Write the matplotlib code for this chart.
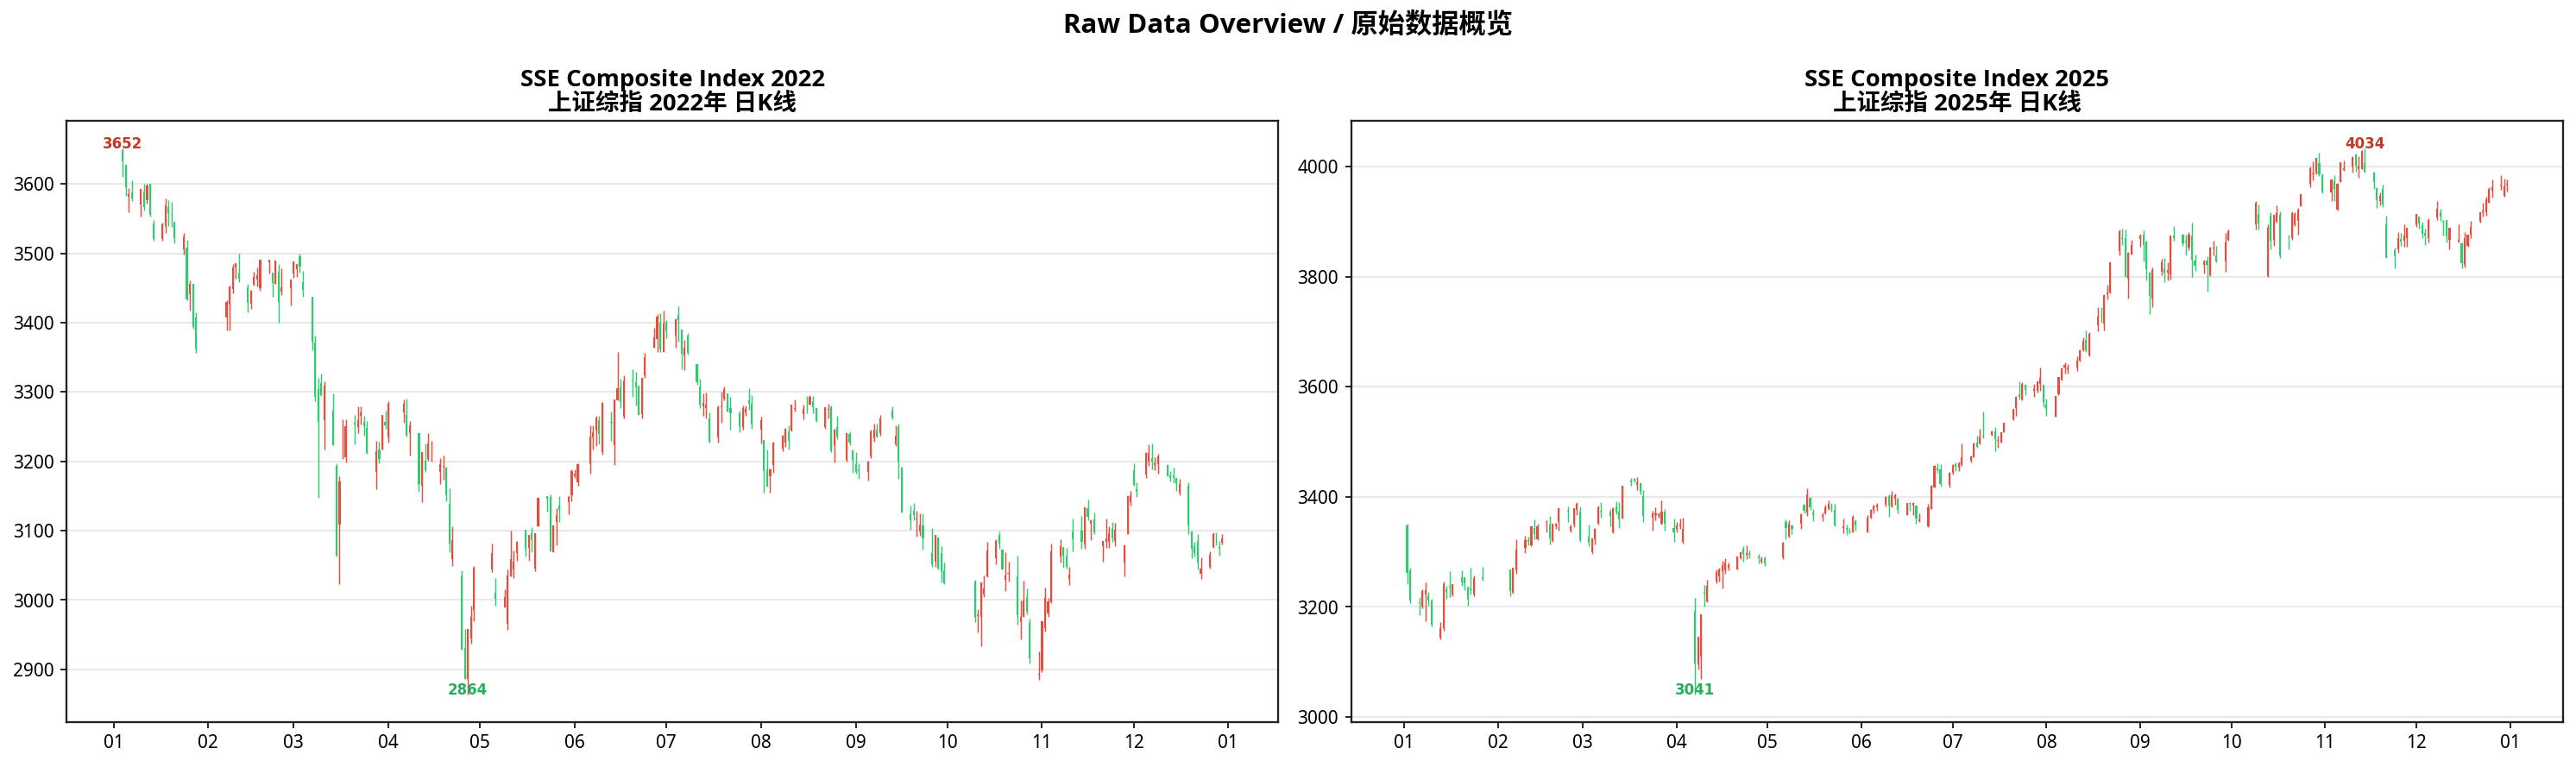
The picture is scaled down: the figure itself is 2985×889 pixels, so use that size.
import matplotlib
matplotlib.use('Agg')
import matplotlib.pyplot as plt
import matplotlib.dates as mdates
import numpy as np
import pandas as pd

plt.rcParams['font.family'] = ['Noto Sans', 'Noto Sans CJK SC', 'DejaVu Sans']
plt.rcParams['axes.unicode_minus'] = False
TITLE_FONT = ['Open Sans', 'Noto Sans CJK SC', 'DejaVu Sans']

UP = '#e74c3c'
DOWN = '#2ecc71'
UP_TXT = '#c0392b'
DOWN_TXT = '#27ae60'

# exchange holidays (weekdays without trading)
hol_22 = ['2022-01-03', '2022-01-31', '2022-02-01', '2022-02-02', '2022-02-03',
          '2022-02-04', '2022-04-04', '2022-04-05', '2022-05-02', '2022-05-03',
          '2022-05-04', '2022-06-03', '2022-09-12', '2022-10-03', '2022-10-04',
          '2022-10-05', '2022-10-06', '2022-10-07']
hol_25 = ['2025-01-01', '2025-01-28', '2025-01-29', '2025-01-30', '2025-01-31',
          '2025-02-03', '2025-02-04', '2025-04-04', '2025-05-01', '2025-05-02',
          '2025-05-05', '2025-06-02', '2025-10-01', '2025-10-02', '2025-10-03',
          '2025-10-06', '2025-10-07', '2025-10-08']

# ---- 2022 daily OHLC ----
open_22 = [
    3649.2, 3628.3, 3581.2, 3588, 3571, 3589, 3577, 3600, 3542.7, 3521, 3539.8, 3567, 3556.5, 3545, 3505.8, 3507.9, 3441.5, 3455.6, 3407,
    3407, 3426.5, 3449, 3479.7, 3472, 3450.6, 3427, 3454.8, 3462, 3449.8, 3487.1, 3472, 3456, 3473.4, 3444.4, 3449.4,
    3470.5, 3477.6, 3495.4, 3458.9, 3436.9, 3371, 3303.8, 3312.9, 3259, 3272.7, 3193.4, 3108.4, 3214.4, 3206.3, 3255.6, 3249.8, 3265.2, 3256.9, 3247.7, 3185.1, 3216.6, 3217.5, 3256.9,
    3234.9, 3270.2, 3267.3, 3240.3, 3240.3, 3164.8, 3200.9, 3203, 3210.5, 3185.1, 3191.8, 3191.4, 3138.6, 3058.6, 3034.9, 2930.4, 2886, 2944.9, 2986,
    3043.6, 3010.8, 2989.6, 2965.2, 3033.6, 3044, 3067.6, 3100.8, 3075.1, 3095.9, 3045.6, 3106.2, 3149.8, 3148.5, 3069, 3112.1, 3135.9, 3141.5, 3150.6,
    3179, 3169.3, 3196.3, 3234.8, 3244, 3259.7, 3212.8, 3256.8, 3223.3, 3288.5, 3307.2, 3264.1, 3316.5, 3313.9, 3308.5, 3268.2, 3324.2, 3364.5, 3377, 3399.7, 3358.3,
    3400.6, 3381.9, 3411, 3390.6, 3352.9, 3381.1, 3340.8, 3307.6, 3279.5, 3276.5, 3261.6, 3234.8, 3278, 3290.4, 3297.9, 3276.3, 3269.7, 3249.4, 3271, 3287.5, 3282.5,
    3246, 3230.7, 3188.8, 3178.4, 3195, 3218.2, 3227.4, 3242.7, 3244, 3275.1, 3268, 3278.4, 3282.1, 3286.7, 3276.3, 3249.4, 3275, 3278.4, 3223.2, 3249.4, 3202.5, 3239.8, 3215.8,
    3196.3, 3188.8, 3184.2, 3207, 3232.7, 3245.2, 3241, 3272.6, 3224.5, 3249.3, 3190.4, 3123.2, 3128.2, 3116.4, 3098.3, 3107.4, 3067.2, 3055.6, 3090, 3067.2, 3042.3,
    3026.6, 2977.3, 2975.2, 3008, 3034, 3059.8, 3094.2, 3072.7, 3028.7, 3037.4, 3034, 2967.7, 2976, 3004.2, 2966.9, 2892,
    2898, 2959.4, 2980.2, 2996.7, 3062.3, 3076.8, 3064.4, 3029.9, 3099.2, 3100.5, 3079.7, 3132.8, 3110, 3116.2, 3077.6, 3084.3, 3083.9, 3103.8, 3085.1, 3053.6, 3095, 3140.7,
    3187.6, 3159.8, 3180.5, 3200, 3205, 3195.1, 3195.9, 3195, 3179.3, 3179.3, 3176.4, 3154.4, 3164.8, 3099.2, 3077.6, 3085.1, 3037.4, 3047.4, 3076.8, 3088, 3076.4, 3083,
]
high_22 = [
    3651.9, 3628.3, 3594.5, 3606, 3593.5, 3601, 3600, 3601, 3547.7, 3545, 3579, 3577, 3574, 3547, 3530, 3519, 3461, 3456, 3415.4,
    3433, 3453, 3484.6, 3485.9, 3499.6, 3455.6, 3447.3, 3473.4, 3479.7, 3491, 3491.3, 3472, 3489.5, 3485, 3478.8, 3462.5,
    3489, 3485, 3499.6, 3474.3, 3437, 3382, 3320, 3326.6, 3316, 3297.5, 3196.7, 3178, 3261, 3261, 3267.3, 3278.9, 3279.7, 3266, 3257.7, 3229.9, 3228.7, 3266.6, 3272.7,
    3287.2, 3288.8, 3290, 3258.1, 3240.3, 3213.5, 3225.8, 3240.3, 3230, 3204.2, 3208, 3192.6, 3160.6, 3106.3, 3043.2, 2958.2, 2958.3, 2991.4, 3048.6,
    3081.7, 3031.1, 3015.8, 3044, 3100, 3071.8, 3085.5, 3101, 3094, 3105, 3097, 3147, 3150, 3152.7, 3107.5, 3132.8, 3149.8, 3150.6, 3188,
    3188.8, 3197.5, 3252.2, 3252.2, 3266, 3266, 3285.5, 3272.2, 3289, 3358.3, 3319.7, 3323.8, 3333.4, 3329.2, 3310.6, 3320.2, 3357, 3392.7, 3413, 3414.3, 3417.2,
    3403.9, 3406, 3423.8, 3390.6, 3375.7, 3385.2, 3340.8, 3319.7, 3298.1, 3298.9, 3271.1, 3280.5, 3300, 3308, 3298, 3293, 3273, 3280.5, 3280.5, 3306, 3295,
    3263.9, 3230.7, 3217, 3189.5, 3228.2, 3237.7, 3248.1, 3252.3, 3281.7, 3288.8, 3281.3, 3294.6, 3295.8, 3293.8, 3276.5, 3278.4, 3283.4, 3280.5, 3246.5, 3265.5, 3241, 3242.7, 3216,
    3212.8, 3197.5, 3200.8, 3245.6, 3254, 3254, 3266.3, 3278.8, 3251.4, 3253.9, 3191.7, 3135.7, 3140.6, 3129.4, 3125.3, 3124.9, 3103.3, 3094, 3090.5, 3077.2, 3054.3,
    3028.7, 2986.4, 3025.5, 3035.3, 3083.9, 3087.2, 3099.2, 3073, 3068.5, 3054.8, 3064, 2999.6, 3027.9, 3016.6, 2973.1, 2926.2,
    2969.2, 3017.5, 3003, 3081, 3087.2, 3077, 3075.6, 3047.8, 3117.9, 3121.2, 3134.1, 3145.3, 3116, 3126.2, 3085, 3117, 3106.7, 3112.9, 3110.8, 3078.6, 3150.3, 3157.3,
    3197.1, 3169.8, 3213.7, 3224.9, 3225.8, 3206.3, 3211.2, 3195.9, 3186.3, 3190.5, 3176.5, 3175.2, 3170.2, 3099.2, 3083.9, 3095, 3061, 3070.6, 3097.5, 3097.5, 3085.1, 3095,
]
low_22 = [
    3610.1, 3583.5, 3559.9, 3576, 3553.5, 3562, 3572, 3553, 3517.8, 3518, 3530, 3539.8, 3538.6, 3514, 3499, 3432, 3417.4, 3391.7, 3356,
    3389, 3389, 3443, 3463.9, 3458, 3414.5, 3420, 3453.5, 3452.7, 3445.6, 3470.5, 3437, 3456, 3399.6, 3439.4, 3424.9,
    3464.3, 3466, 3472, 3437, 3360.2, 3287, 3148, 3294.2, 3217.5, 3223.5, 3063, 3023.3, 3203, 3198, 3224.5, 3240.3, 3252.7, 3237.4, 3211.2, 3159.4, 3196.7, 3216.6, 3246.5,
    3226.6, 3255.6, 3236, 3208.3, 3156.5, 3140.7, 3184.3, 3200.9, 3200, 3166.8, 3174, 3142.8, 3069.4, 3049.4, 2928.5, 2886.4, 2863.65, 2936.6, 2969.4,
    3040.7, 2992.1, 2988.8, 2956.9, 3033.6, 3031.5, 3056, 3062.7, 3056.4, 3068.9, 3041.9, 3106, 3127.8, 3070.5, 3068.9, 3079.2, 3112.1, 3123.6, 3142.3,
    3176, 3164.3, 3181.8, 3217, 3222.4, 3224.5, 3210, 3229.5, 3195, 3288.5, 3277.4, 3262, 3292.7, 3280.3, 3267, 3262, 3320.9, 3363.7, 3358.3, 3358.3, 3358.3,
    3378.2, 3364.5, 3372.8, 3333.4, 3332.1, 3354.1, 3311, 3277.4, 3265.7, 3261.6, 3227.6, 3226.5, 3256, 3288, 3272, 3246, 3242, 3246, 3266, 3275, 3247.3,
    3225.3, 3154.8, 3163.1, 3154.8, 3183.8, 3214.1, 3221.1, 3217, 3243.1, 3272.2, 3260.6, 3268.9, 3281.3, 3268.9, 3256.4, 3247.3, 3261.8, 3212.8, 3198.3, 3232.4, 3199.2, 3223.2, 3183.8,
    3181.7, 3174.3, 3171.8, 3205, 3227.8, 3234, 3237, 3260.1, 3221.6, 3174.7, 3126.4, 3101.2, 3114.9, 3090.9, 3092.9, 3072.2, 3048.5, 3048.5, 3044.4, 3025.7, 3022.4,
    2967.7, 2953.2, 2933.3, 3004.2, 3033.2, 3052, 3073.5, 3043.6, 3012.5, 3026.6, 2964.4, 2942.8, 2976, 2979.3, 2908.4, 2885.1,
    2896.3, 2954.4, 2976, 2995.9, 3053.6, 3046.5, 3045.3, 3021.6, 3070.2, 3074.3, 3073.5, 3115, 3086, 3095, 3054.8, 3075.6, 3075.6, 3083.9, 3077.6, 3034, 3095, 3135.7,
    3164.8, 3148.2, 3176.4, 3193.8, 3188.8, 3187.6, 3182.2, 3178, 3171, 3168.9, 3157.3, 3151.1, 3095, 3060.2, 3062.3, 3044.5, 3030, 3045.7, 3075.6, 3078.5, 3064, 3080.5,
]
close_22 = [
    3632.3, 3595.2, 3586.1, 3579.5, 3593.5, 3567.4, 3597.4, 3555.3, 3521.3, 3541.7, 3569.9, 3558.2, 3555.1, 3522.6, 3524.1, 3433.1, 3455.7, 3394.3, 3361.4,
    3429.6, 3452.6, 3480, 3485.9, 3463, 3428.9, 3446.1, 3465.8, 3468, 3490.8, 3490.6, 3457.2, 3489.2, 3430, 3451.4, 3462.3,
    3488.8, 3484.2, 3481.1, 3447.7, 3372.9, 3293.5, 3256.4, 3296.1, 3309.8, 3223.5, 3064, 3170.7, 3215, 3251.1, 3253.7, 3259.9, 3271, 3250.3, 3212.2, 3214.5, 3203.9, 3266.6, 3252.2,
    3282.7, 3283.4, 3236.7, 3251.9, 3167.1, 3213.3, 3186.8, 3225.6, 3211.2, 3195.5, 3194, 3151.1, 3079.8, 3086.9, 2928.5, 2886.4, 2958.3, 2975.5, 3047.1,
    3067.8, 3001.6, 3004.1, 3035.8, 3058.7, 3055, 3084.3, 3073.8, 3093.7, 3086, 3097, 3146.9, 3146.6, 3070.9, 3107.5, 3123.1, 3130.2, 3149.1, 3186.4,
    3182.2, 3195.5, 3236.4, 3241.8, 3263.8, 3239, 3284.8, 3255.6, 3288.9, 3305.4, 3285.4, 3316.8, 3315.4, 3306.7, 3267.2, 3320.2, 3349.8, 3379.2, 3409.2, 3361.5, 3398.6,
    3387.6, 3405.4, 3404, 3355.4, 3364.4, 3356.1, 3313.6, 3281.5, 3284.3, 3281.7, 3228.1, 3278.1, 3279.4, 3304.7, 3272, 3270, 3250.4, 3277.4, 3275.8, 3282.6, 3253.2,
    3260, 3186.3, 3163.7, 3189, 3227, 3236.9, 3247.4, 3230, 3281.7, 3276.9, 3276.1, 3277.9, 3292.5, 3277.5, 3258.1, 3277.8, 3276.2, 3215.2, 3246.3, 3236.2, 3240.7, 3227.2, 3202.1,
    3185, 3186.5, 3199.9, 3243.5, 3246.3, 3235.6, 3262.1, 3263.8, 3237.5, 3199.9, 3126.4, 3115.6, 3122.4, 3117.2, 3108.9, 3088.4, 3051.2, 3093.9, 3045.1, 3041.2, 3024.4,
    2974.2, 2979.8, 3025.5, 3016.4, 3072, 3084.9, 3081, 3044.4, 3035.1, 3038.9, 2977.6, 2976.3, 2999.5, 2982.9, 2915.9, 2893.5,
    2969.2, 3003.4, 2997.8, 3070.8, 3077.8, 3064.5, 3048.2, 3036.1, 3087.3, 3083.4, 3134.1, 3120, 3115.4, 3097.2, 3085, 3088.9, 3096.9, 3089.3, 3101.7, 3078.6, 3149.8, 3151.3,
    3165.5, 3156.1, 3211.8, 3212.5, 3199.6, 3197.4, 3207, 3179, 3176.3, 3176.5, 3168.7, 3167.9, 3107.1, 3073.8, 3068.4, 3054.4, 3045.9, 3065.6, 3095.6, 3087.4, 3073.7, 3089.3,
]

# ---- 2025 daily OHLC ----
open_25 = [
    3347.9, 3266.5, 3208, 3201, 3222, 3220, 3212, 3144, 3162, 3232.3, 3237.7, 3222.2, 3254.8, 3254, 3235.4, 3234, 3222.2, 3254.8,
    3268.9, 3226, 3266.6, 3307.9, 3323.5, 3311.8, 3343, 3323.5, 3353.9, 3349.2, 3319.6, 3346.9, 3354.7, 3375.5, 3339.1, 3349.2, 3375.8, 3374,
    3327.4, 3300.1, 3323.5, 3350.8, 3374.2, 3372.6, 3335.2, 3382, 3372.6, 3360.1, 3430.4, 3432.7, 3422.5, 3425, 3401.5, 3362.5, 3366.4, 3366, 3350.8, 3372.6, 3343,
    3341.4, 3346.9, 3318, 3193.1, 3095, 3109, 3227.5, 3210.4, 3245.5, 3255.6, 3264.9, 3266.6, 3271.2, 3268.9, 3288.4, 3305.6, 3294.6, 3297.8, 3292.3, 3282, 3288.4,
    3290, 3353.7, 3327.4, 3348.4, 3351.1, 3385.3, 3372.1, 3398.4, 3372.1, 3364.2, 3369.5, 3378.4, 3381.5, 3375.8, 3343.2, 3344.2, 3341, 3336.3, 3356.3,
    3336.3, 3361.6, 3376.3, 3381.6, 3385.3, 3401, 3382.6, 3397.4, 3396.9, 3366.8, 3389.5, 3384.2, 3383.7, 3355.3, 3346, 3378, 3416.8, 3451, 3449.5, 3422,
    3443.1, 3458.9, 3452.5, 3457.2, 3465.7, 3472, 3498, 3497, 3512, 3512.7, 3519, 3502, 3499, 3517.9, 3541, 3560.9, 3587, 3577.7, 3603.8, 3592.3, 3593.4, 3605.4, 3603.8,
    3567.2, 3545.2, 3587, 3613.3, 3635.3, 3632.7, 3635.3, 3647.3, 3666.7, 3685.6, 3657.8, 3711.8, 3728.6, 3715.4, 3767.9, 3771.5, 3846.5, 3871.1, 3870, 3796.7, 3841.2,
    3869, 3876.3, 3864.8, 3808.2, 3760, 3809.8, 3816, 3808.2, 3804.5, 3875.3, 3876.3, 3865.8, 3853.3, 3875.3, 3829.2, 3821.8, 3829.2, 3803, 3851.7, 3839.6, 3828.1, 3867.4,
    3896.2, 3914.6, 3801, 3910.9, 3867.4, 3899.9, 3912, 3864.8, 3870, 3894.7, 3902.5, 3928.7, 3969.6, 3986.4, 3988, 4007.3, 3985.3,
    3952.8, 3973.3, 3922.4, 3972.2, 3994.2, 4000, 4023, 3995.8, 3995.8, 4007.3, 3989, 3961.7, 3938.2, 3960.2, 3896.2, 3849, 3850.1, 3869, 3865.8, 3870,
    3893.6, 3909.4, 3894.7, 3879.5, 3871.1, 3907.8, 3917.2, 3901.5, 3904.1, 3867.4, 3863.8, 3861.2, 3821.8, 3857, 3876.3, 3900.4, 3918.2, 3918.2, 3935.5, 3956.5, 3964.9, 3947.6, 3966.9,
]
high_25 = [
    3351.8, 3271, 3218, 3232, 3244, 3227.6, 3214.6, 3172.9, 3245.5, 3237.7, 3265, 3241.8, 3266.6, 3254, 3237.7, 3272, 3257.3, 3272.8,
    3268.9, 3271.2, 3323.5, 3329, 3327.4, 3346.9, 3358.6, 3350.8, 3357, 3364.8, 3351.6, 3352.4, 3379.2, 3382, 3350, 3380.3, 3389.8, 3382,
    3349.2, 3324.3, 3343, 3383.6, 3389.8, 3378.1, 3380.4, 3391.4, 3389.8, 3419.6, 3435, 3435, 3436.6, 3425.5, 3413.2, 3374.2, 3380.4, 3372, 3393.7, 3378.1, 3360.1,
    3354.7, 3360.1, 3361.6, 3216.8, 3145.6, 3187, 3240, 3249.4, 3268.9, 3271.2, 3284.5, 3288.4, 3280.6, 3292.3, 3300.1, 3310.2, 3311.8, 3302.5, 3296.2, 3292, 3292.3,
    3318, 3358.9, 3357.4, 3348.5, 3369.5, 3385.5, 3415.8, 3399.5, 3377.4, 3372.1, 3385.3, 3393.2, 3388.9, 3387.9, 3360.5, 3350, 3343.2, 3366.8, 3359,
    3366.8, 3377.4, 3385.3, 3389, 3401, 3404.8, 3411.6, 3406.3, 3398.4, 3389, 3390.6, 3390, 3384, 3369.5, 3388, 3422.1, 3457.4, 3461.5, 3460.2, 3445.7,
    3458.8, 3462, 3465, 3497.2, 3474.5, 3498, 3511, 3524, 3554.6, 3520.5, 3526.8, 3511, 3517, 3534.7, 3560, 3582.9, 3610.7, 3608, 3605.4, 3605.4, 3610, 3635.3, 3604,
    3579.2, 3583.5, 3617.8, 3635.3, 3644.7, 3642, 3655.2, 3668.3, 3689.3, 3703.4, 3699.8, 3744.3, 3745.3, 3767.9, 3786.2, 3825.8, 3885.8, 3888.4, 3886.8, 3845, 3867.4,
    3877.9, 3884.7, 3865, 3808.5, 3816.6, 3833.3, 3834.4, 3827, 3875.5, 3892, 3877.9, 3876.3, 3881.6, 3898.9, 3841.2, 3830.7, 3837.5, 3855.4, 3865.8, 3857, 3880.5, 3886.8,
    3937.1, 3931.9, 3896, 3917.2, 3912.5, 3930.3, 3919.8, 3876.3, 3919.8, 3917.2, 3925, 3950.5, 4000, 4010.5, 4016.8, 4026.2, 3988,
    3976.6, 3985.3, 3970.6, 4008.9, 4011.5, 4019.4, 4024.6, 4019.4, 4031, 4034.1, 3991.6, 3963.3, 3952.8, 3967, 3910.9, 3853.3, 3881.6, 3879.5, 3895.2, 3888.6,
    3914.6, 3910.4, 3900.4, 3888.4, 3906.7, 3937.1, 3923.5, 3904.1, 3904.1, 3890, 3896.2, 3862.2, 3881.6, 3876.4, 3901.5, 3918.2, 3935.5, 3946, 3963.3, 3977.5, 3984.3, 3979, 3977.5,
]
low_25 = [
    3242.1, 3206.5, 3185.4, 3197, 3174, 3202.6, 3165, 3141, 3157.3, 3214.3, 3218, 3220, 3237.7, 3230, 3202.6, 3222, 3220, 3247.8,
    3219.8, 3224.5, 3261, 3297.8, 3311.8, 3310.2, 3323.5, 3321.2, 3335.2, 3313.4, 3318, 3341.4, 3339.1, 3354.7, 3335, 3344.5, 3366.4, 3318,
    3310.2, 3296.2, 3313.4, 3349.2, 3362.5, 3346.9, 3333.6, 3368, 3343, 3360.1, 3421, 3427.3, 3413.2, 3405, 3354.7, 3339.1, 3357, 3362, 3349.2, 3339.1, 3318,
    3335.2, 3341.4, 3316, 3040.69, 3085.6, 3068.4, 3201, 3208.8, 3243, 3245.5, 3234, 3261, 3266.6, 3268.9, 3287, 3282, 3287, 3288.4, 3279, 3279, 3274.4,
    3287, 3323.7, 3325.8, 3332.7, 3341.6, 3369.5, 3365.8, 3376.3, 3355.3, 3355.3, 3367.9, 3376.3, 3373.2, 3346.9, 3334.3, 3331.1, 3334.3, 3336.3, 3339.5,
    3336.3, 3360.5, 3369.5, 3375, 3382.6, 3364.2, 3381.6, 3385.3, 3369.5, 3366.8, 3374.8, 3366.8, 3351.1, 3353.7, 3345, 3377.4, 3416.8, 3444.6, 3419.5, 3417,
    3440, 3447, 3447.5, 3456.5, 3462.5, 3471.8, 3488.6, 3495.4, 3505.9, 3511, 3482.3, 3488.6, 3498, 3517.9, 3540, 3547.8, 3577.7, 3575.6, 3584.5, 3581.8, 3589.7, 3592.3, 3563.5,
    3547.8, 3545.2, 3584.5, 3612.2, 3623.8, 3624.8, 3629, 3645.8, 3665.7, 3663, 3656.2, 3701.3, 3717, 3703.4, 3759, 3770.5, 3839.6, 3858.5, 3799.3, 3760, 3841,
    3854.3, 3828, 3794, 3732.2, 3744.3, 3803, 3790.4, 3794, 3795.6, 3865.8, 3857, 3838.6, 3849, 3799.3, 3811.4, 3806.1, 3773, 3802, 3839.6, 3827, 3809.8, 3865.8,
    3885.8, 3886.8, 3799.5, 3850.1, 3857, 3898.9, 3834.4, 3850.1, 3867.4, 3892, 3876.3, 3927.7, 3963.3, 3975.9, 3986.4, 3982.7, 3951.3,
    3937.1, 3938.2, 3921.4, 3972.2, 3993.2, 3989.5, 3991.6, 3980, 3995.8, 3989.5, 3959.1, 3925, 3930.3, 3926.6, 3834.4, 3815, 3843.8, 3857, 3854.3, 3855.4,
    3891, 3888.4, 3870, 3858.5, 3862.2, 3904.1, 3902.5, 3875.3, 3862.2, 3850.1, 3862.2, 3815, 3817.6, 3855.4, 3870, 3898.9, 3909.4, 3910.9, 3934, 3944.4, 3958, 3946, 3954.9,
]
close_25 = [
    3262.6, 3211.4, 3206.9, 3229.6, 3230.2, 3211.4, 3168.5, 3160.8, 3240.9, 3227.1, 3236, 3241.8, 3244.4, 3242.6, 3213.6, 3230.2, 3252.6, 3250.6,
    3229.5, 3270.7, 3303.7, 3322.2, 3318.1, 3346.4, 3332.5, 3346.7, 3355.8, 3324.5, 3351.5, 3350.8, 3379.1, 3373, 3346, 3380.2, 3388.1, 3320.9,
    3316.9, 3324.2, 3342, 3381.1, 3372.6, 3366.2, 3379.8, 3371.9, 3358.7, 3419.6, 3426.4, 3429.8, 3426.4, 3409, 3364.8, 3370, 3370, 3368.7, 3373.8, 3351.3, 3335.8,
    3348.4, 3350.1, 3342, 3096.6, 3145.6, 3186.8, 3223.6, 3238.2, 3262.8, 3267.7, 3276, 3280.3, 3276.7, 3291.4, 3299.8, 3296.4, 3297.3, 3295.1, 3288.4, 3286.7, 3279,
    3316.1, 3342.7, 3352, 3342, 3369.2, 3374.9, 3404, 3380.8, 3367.5, 3367.6, 3380.5, 3387.6, 3380.2, 3348.4, 3346.8, 3340.7, 3339.9, 3363.5, 3347.5,
    3362, 3376.2, 3384.1, 3385.4, 3399.8, 3384.8, 3402.3, 3402.7, 3377, 3388.8, 3387.4, 3388.8, 3360, 3359.9, 3381.6, 3420.6, 3456, 3448.5, 3424.2, 3444.4,
    3457.8, 3454.8, 3461.2, 3472.3, 3473.1, 3497.5, 3491, 3509.7, 3510.2, 3519.7, 3505, 3503.8, 3516.8, 3534.5, 3559.8, 3581.9, 3582.3, 3605.7, 3593.7, 3597.9, 3609.7, 3615.7, 3573.2,
    3560, 3583.3, 3617.6, 3634, 3639.7, 3635.1, 3647.6, 3665.9, 3683.5, 3666.4, 3696.8, 3728, 3727.3, 3766.2, 3771.1, 3825.8, 3883.6, 3868.4, 3800.4, 3843.6, 3857.9,
    3875.5, 3858.1, 3813.6, 3765.9, 3812.5, 3826.8, 3807.3, 3812.2, 3875.3, 3870.6, 3860.5, 3861.9, 3876.3, 3831.7, 3820.1, 3828.6, 3821.8, 3853.6, 3853.3, 3828.1, 3862.5, 3882.8,
    3934, 3897, 3889.5, 3865.2, 3912.2, 3916.2, 3839.8, 3863.9, 3916.3, 3913.8, 3922.4, 3950.3, 3996.9, 3988.2, 4016.3, 3986.9, 3954.8,
    3976.5, 3960.2, 3969.3, 4007.8, 3997.6, 4018.6, 4002.8, 4000.1, 4029.5, 3990.5, 3972, 3939.8, 3946.7, 3931, 3834.9, 3836.8, 3870, 3864.2, 3875.3, 3888.6,
    3914, 3897.7, 3878, 3875.8, 3902.8, 3924.1, 3909.5, 3900.5, 3873.3, 3889.4, 3867.9, 3824.8, 3870.3, 3876.4, 3890.5, 3917.4, 3920, 3941, 3959.6, 3963.7, 3965.3, 3965.1, 3968.8,
]

dates_22 = pd.bdate_range('2022-01-04', '2022-12-30', freq='C', holidays=hol_22)
dates_25 = pd.bdate_range('2025-01-02', '2025-12-31', freq='C', holidays=hol_25)


def draw_kline(ax, dates, o, h, l, c, title):
    o, h, l, c = (np.asarray(v, dtype=float) for v in (o, h, l, c))
    x = mdates.date2num(dates.to_pydatetime())
    cols = np.where(c >= o, UP, DOWN)
    ax.vlines(x, l, h, colors=cols, linewidth=0.7, zorder=2)
    body = np.maximum(np.abs(c - o), 0.8)
    ax.bar(x, body, width=0.6, bottom=np.minimum(o, c), color=cols,
           linewidth=0, zorder=3)
    ax.use_sticky_edges = False

    # highest / lowest labels
    i_hi = int(np.argmax(h))
    i_lo = int(np.argmin(l))
    ax.text(x[i_hi], h[i_hi], f'{h[i_hi]:.0f}', color=UP_TXT, ha='center',
            va='baseline', fontsize=8, fontweight='bold', family='DejaVu Sans',
            zorder=5)
    ax.text(x[i_lo], l[i_lo], f'{l[i_lo]:.0f}', color=DOWN_TXT, ha='center',
            va='baseline', fontsize=8, fontweight='bold', family='DejaVu Sans',
            zorder=5)

    ax.set_title(title, fontsize=13.2, fontweight='bold', family=TITLE_FONT,
                 linespacing=1.1, pad=6)
    ax.xaxis.set_major_locator(mdates.MonthLocator())
    ax.xaxis.set_major_formatter(mdates.DateFormatter('%m'))
    ax.grid(axis='y', color='#e8e8e8', linewidth=1.0)
    ax.set_axisbelow(True)
    ax.tick_params(labelsize=10)
    for s in ax.spines.values():
        s.set_color('#222222')
        s.set_linewidth(1.1)


fig = plt.figure(figsize=(19.9, 5.927), dpi=150)
ax1 = fig.add_axes([0.0259, 0.0588, 0.4703, 0.7837])
ax2 = fig.add_axes([0.5245, 0.0588, 0.4705, 0.7837])

draw_kline(ax1, dates_22, open_22, high_22, low_22, close_22,
           'SSE Composite Index 2022\n上证综指 2022年 日K线')
draw_kline(ax2, dates_25, open_25, high_25, low_25, close_25,
           'SSE Composite Index 2025\n上证综指 2025年 日K线')

fig.suptitle('Raw Data Overview / 原始数据概览', fontsize=15, fontweight='bold',
             y=0.967, va='center', family=TITLE_FONT)

fig.savefig('out.png', dpi=150)
